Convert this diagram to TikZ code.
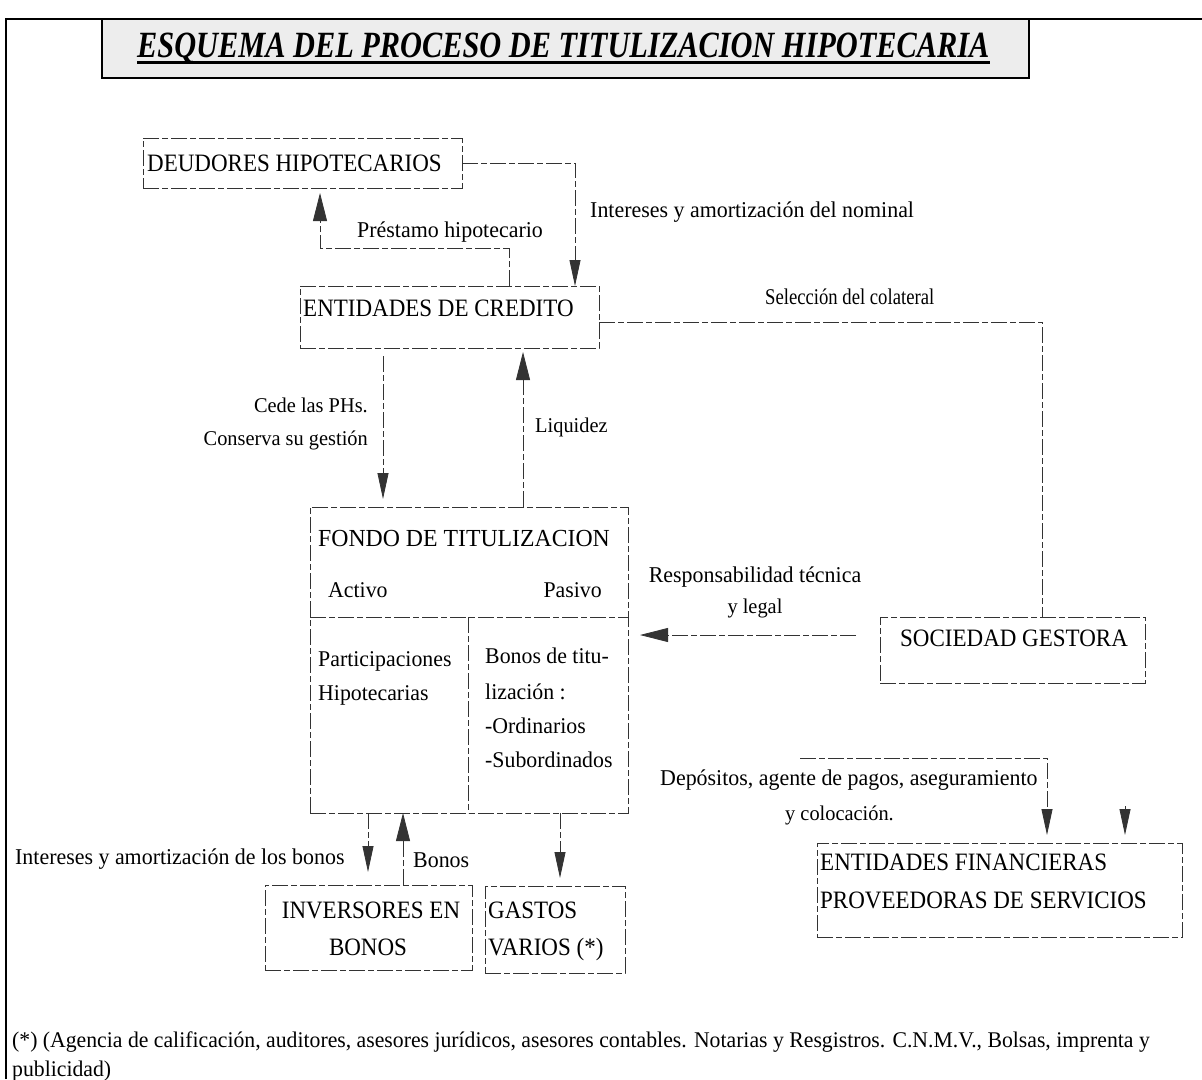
\documentclass[tikz,border=0pt]{standalone}
\usepackage{fontspec}
\setmainfont{Liberation Serif}
\newfontfamily\boxfont[FakeStretch=0.92]{Liberation Serif}
\newfontfamily\labfont[FakeStretch=0.97]{Liberation Serif}
\newfontfamily\narrowfont[FakeStretch=0.83]{Liberation Serif}
\newfontfamily\titlefont[FakeStretch=0.82]{Liberation Serif}
\usetikzlibrary{arrows.meta}

\tikzset{
  scanline/.style={line width=0.8pt, black!80, dash pattern=on 16pt off 3pt on 6pt off 3pt},
  boxnode/.style={draw, scanline, inner sep=0pt, outer sep=0pt},
  boxtext/.style={font={\boxfont\fontsize{25}{30}\selectfont}, inner sep=0pt, text=black},
  labtext/.style={font={\labfont\fontsize{21}{25}\selectfont}, inner sep=0pt, text=black},
  labbig/.style={font={\labfont\fontsize{22.6}{27}\selectfont}, inner sep=0pt, text=black},
  labnarrow/.style={font={\narrowfont\fontsize{22.5}{27}\selectfont}, inner sep=0pt, text=black},
  celltext/.style={font={\labfont\fontsize{22.5}{27}\selectfont}, inner sep=0pt, text=black},
  notetext/.style={font={\labfont\fontsize{22.4}{26}\selectfont}, inner sep=0pt, text=black},
  flow/.style={scanline, -{Triangle[length=26pt,width=11pt]}},
  flowbig/.style={scanline, -{Triangle[length=28pt,width=14pt]}},
}

\begin{document}
\begin{tikzpicture}[x=1pt, y=-1pt]
  \useasboundingbox (0,0) rectangle (1202,1079);

  % page frame
  \draw[line width=2.4pt, line join=miter] (6,1079) -- (6,19) -- (1202,19);

  % title banner
  \node[draw=black, line width=1.2pt, fill=black!7, minimum width=927pt, minimum height=59pt,
        inner sep=0pt] (title) at (565.5,48.5) {};
  \node[font={\titlefont\fontsize{37}{40}\selectfont\bfseries\itshape}, inner sep=0pt,
        anchor=base west] (titletext) at (137,57) {ESQUEMA DEL PROCESO DE TITULIZACION HIPOTECARIA};
  \draw[line width=3pt] ([yshift=-5pt]titletext.base west) -- ([yshift=-5pt]titletext.base east);

  % boxes
  \node[boxnode, minimum width=319pt, minimum height=50pt] (deu) at (302.5,163) {};
  \node[boxtext, anchor=base west] (deut) at (147,171) {DEUDORES HIPOTECARIOS};

  \node[boxnode, minimum width=299pt, minimum height=62pt] (ent) at (449.5,317) {};
  \node[boxtext, anchor=base west] (entt) at (303,316) {ENTIDADES DE CREDITO};

  \node[boxnode, minimum width=318pt, minimum height=306pt] (fon) at (469,660) {};
  \node[font={\labfont\fontsize{24.5}{29}\selectfont}, inner sep=0pt, anchor=base west] (font1) at (318,546) {FONDO DE TITULIZACION};
  \node[celltext, anchor=base west] (act) at (328,597) {Activo};
  \node[celltext, anchor=base east] (pas) at (602,597) {Pasivo};
  \draw[scanline] ([yshift=-110pt]fon.north west) -- ([yshift=-110pt]fon.north east);
  \draw[scanline] ([xshift=158pt,yshift=-110pt]fon.north west) -- ([xshift=158pt]fon.south west);
  \node[celltext, anchor=base west] (act1) at (318,666) {Participaciones};
  \node[celltext, anchor=base west] (act2) at (318,700) {Hipotecarias};
  \node[celltext, anchor=base west] (pas1) at (485,663) {Bonos de titu-};
  \node[celltext, anchor=base west] (pas2) at (485,699) {lización :};
  \node[celltext, anchor=base west] (pas3) at (485,733) {-Ordinarios};
  \node[celltext, anchor=base west] (pas4) at (485,767) {-Subordinados};

  \node[boxnode, minimum width=265pt, minimum height=66pt] (soc) at (1012.5,650) {};
  \node[boxtext, anchor=base west] (soct) at (900,646) {SOCIEDAD GESTORA};

  \node[boxnode, minimum width=365pt, minimum height=94pt] (fin) at (999.5,890) {};
  \node[boxtext, anchor=base west] (fint1) at (820,870) {ENTIDADES FINANCIERAS};
  \node[boxtext, anchor=base west] (fint2) at (820,908) {PROVEEDORAS DE SERVICIOS};

  \node[boxnode, minimum width=207pt, minimum height=85pt] (inv) at (368.5,927.5) {};
  \node[boxtext, anchor=base] (invt1) at (371,918) {INVERSORES EN};
  \node[boxtext, anchor=base] (invt2) at (368,955) {BONOS};

  \node[boxnode, minimum width=140pt, minimum height=87pt] (gas) at (555,929.5) {};
  \node[boxtext, anchor=base west] (gast1) at (488,918) {GASTOS};
  \node[boxtext, anchor=base west] (gast2) at (488,955) {VARIOS (*)};

  % connectors
  \draw[flow] (deu.east) -| ([xshift=-24pt]ent.north east);
  \node[labbig, anchor=base west] (l1) at (590,217) {Intereses y amortización del nominal};

  \draw[flowbig, shorten >=5pt] ([xshift=209pt]ent.north west) -- ++(0,-38) -| ([xshift=177pt]deu.south west);
  \node[labbig, anchor=base west] (l2) at (357,237) {Préstamo hipotecario};

  \draw[scanline] ([yshift=-5pt]ent.east) -| ([xshift=162pt]soc.north west);
  \node[labnarrow, anchor=base west] (l3) at (765,304) {Selección del colateral};

  \draw[flow, shorten >=8pt, shorten <=8pt] ([xshift=83pt]ent.south west) -- ([xshift=73pt]fon.north west);
  \node[labtext, anchor=base east] (l4) at (368,412) {Cede las PHs.};
  \node[labtext, anchor=base east] (l5) at (368,445) {Conserva su gestión};

  \draw[flowbig, shorten >=4pt] ([xshift=213pt]fon.north west) -- ([xshift=223pt]ent.south west);
  \node[labtext, anchor=base west] (l6) at (535,432) {Liquidez};

  \draw[flowbig, shorten >=12pt, shorten <=24pt] ([yshift=15pt]soc.west) -- ([yshift=25pt]fon.east);
  \node[labbig, anchor=base] (l7) at (755,582) {Responsabilidad técnica};
  \node[labtext, anchor=base] (l8) at (755,613) {y legal};

  \coordinate (dep) at (800,758);
  \draw[flow, shorten >=8pt] (dep) -| ([xshift=230pt]fin.north west);
  \coordinate (dep2) at (1125,806);
  \draw[flow, shorten >=8pt] (dep2) -- ([xshift=308pt]fin.north west);
  \node[labbig, anchor=base west] (l9) at (660,785) {Depósitos, agente de pagos, aseguramiento};
  \node[labtext, anchor=base west] (l10) at (785,820) {y colocación.};

  \draw[flow, shorten >=13pt] ([xshift=58pt]fon.south west) -- ([xshift=103pt]inv.north west);
  \draw[flowbig] ([xshift=138pt]inv.north west) -- ([xshift=93pt]fon.south west);
  \draw[flow, shorten >=8pt] ([xshift=250pt]fon.south west) -- ([xshift=75pt]gas.north west);
  \node[labbig, anchor=base west] (l11) at (15,864) {Intereses y amortización de los bonos};
  \node[labbig, anchor=base west] (l12) at (413,867) {Bonos};

  % footnote
  \node[notetext, anchor=base west] (n1) at (12,1047) {(*) (Agencia de calificación, auditores, asesores jurídicos, asesores contables. Notarias y Resgistros. C.N.M.V., Bolsas, imprenta y};
  \node[notetext, anchor=base west] (n2) at (12,1076) {publicidad)};
\end{tikzpicture}
\end{document}
